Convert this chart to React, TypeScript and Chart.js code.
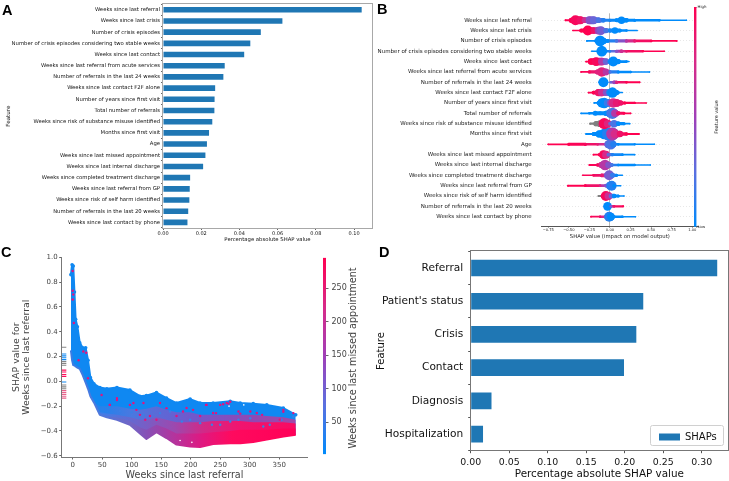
import React, { useEffect, useRef } from "react";
import { Chart, registerables } from "chart.js";

Chart.register(...registerables);

const FONT = "'DejaVu Sans'";
const BAR = "#1f77b4";

// Panel A
const featureNames = [
  "Weeks since last referral", "Weeks since last crisis", "Number of crisis episodes",
  "Number of crisis episodes considering two stable weeks", "Weeks since last contact",
  "Weeks since last referral from acute services", "Number of referrals in the last 24 weeks",
  "Weeks since last contact F2F alone", "Number of years since first visit", "Total number of referrals",
  "Weeks since risk of substance misuse identified", "Months since first visit", "Age",
  "Weeks since last missed appointment", "Weeks since last internal discharge",
  "Weeks since completed treatment discharge", "Weeks since last referral from GP",
  "Weeks since risk of self harm identified", "Number of referrals in the last 20 weeks",
  "Weeks since last contact by phone",
];
const featureShap = [0.104, 0.0625, 0.0512, 0.0457, 0.0425, 0.0323, 0.0316, 0.0273, 0.027, 0.0269, 0.0258, 0.0241, 0.023, 0.0222, 0.021, 0.0142, 0.014, 0.0138, 0.0132, 0.0128];

// Panel B: [SHAP value, local density of the swarm, feature value 0..1 (-1 = missing)]
const rowReferral = [[-0.54, 0.75, 1], [-0.47, 2, 1], [-0.42, 4, 0.95], [-0.36, 3, 0.9], [-0.31, 2.2, 0.7], [-0.25, 3, 0.4], [-0.2, 3, 0.3], [-0.14, 2.2, 0.2], [-0.08, 1.8, 0.1], [0, 1.2, 0.05], [0.08, 1.5, 0], [0.14, 3, 0], [0.2, 1.8, 0], [0.3, 1.2, 0], [0.6, 1, 0], [0.93, 0.5, 0]];
const rowCrisis = [[-0.45, 0.6, 1], [-0.35, 1.5, 1], [-0.27, 4, 1], [-0.2, 2.5, 0.9], [-0.14, 3, 0.5], [-0.11, 3.5, 0.35], [-0.05, 2, 0.2], [0, 1.5, 0.05], [0.06, 2.6, 0], [0.12, 1.5, 0], [0.2, 1, 0], [0.33, 0.5, 0]];
const rowEpisodes = [[-0.28, 0.7, 0], [-0.18, 1, 0], [-0.14, 1.8, 0], [-0.12, 4.3, 0], [-0.08, 2.5, 0], [-0.03, 1.5, 0], [0.08, 1.3, 0.2], [0.2, 1.2, 0.6], [0.3, 1.2, 0.85], [0.5, 1, 1], [0.81, 0.7, 1]];
const rowEpisodesStable = [[-0.22, 0.6, 0], [-0.14, 1, 0], [-0.1, 4.3, 0], [-0.06, 1.5, 0], [0, 1, 0.1], [0.08, 1.2, 0.4], [0.14, 1.5, 0.7], [0.2, 1, 0.85], [0.4, 0.9, 1], [0.66, 0.6, 1]];
const rowContact = [[-0.29, 0.7, 1], [-0.23, 2.5, 1], [-0.17, 3.5, 0.95], [-0.1, 3, 0.6], [-0.05, 2.5, 0.3], [-0.01, 1.5, 0.1], [0.03, 3, 0], [0.04, 4, 0], [0.1, 2, 0], [0.2, 1, 0], [0.23, 0.5, 0]];
const rowAcute = [[-0.35, 0.7, 1], [-0.25, 1.3, 0.95], [-0.15, 2, 0.8], [-0.1, 3.8, 0.8], [-0.05, 2.6, 0.6], [0, 1.3, 0.2], [0.1, 1.2, 0], [0.25, 1, 0], [0.48, 0.6, 0]];
const rowRef24 = [[-0.13, 0.8, 0], [-0.1, 2, 0], [-0.08, 4, 0], [-0.05, 1.6, 0], [-0.03, 0.7, 0], [-0.01, 0, 0], [0.01, 1, 0.3], [0.05, 1.5, 0.45], [0.08, 1.3, 0.8], [0.2, 1, 1], [0.36, 0.7, 1]];
const rowF2F = [[-0.26, 0.7, 1], [-0.2, 1.5, 1], [-0.14, 2.8, 0.9], [-0.1, 3, 0.7], [-0.05, 2.5, 0.4], [-0.01, 2.5, 0.1], [0.03, 4.2, 0], [0.08, 2, 0], [0.1, 1.2, 0], [0.15, 0.5, 0]];
const rowYears = [[-0.19, 0.7, 0], [-0.14, 1.5, 0], [-0.1, 3.5, 0], [-0.07, 4.2, 0], [-0.03, 3, 0.15], [0, 2.5, 0.4], [0.04, 3.8, 0.75], [0.08, 3, 0.85], [0.13, 2, 0.9], [0.18, 1.2, 1], [0.3, 0.9, 1], [0.44, 0.6, 1]];
const rowTotal = [[-0.35, 0.7, 0], [-0.25, 1, 0], [-0.18, 2, 0], [-0.12, 1.6, 0], [-0.05, 2, 0], [0, 3.2, 0.1], [0.03, 4.5, 0.2], [0.06, 3, 0.6], [0.1, 1.7, 0.9], [0.17, 1.1, 1], [0.25, 0.7, 1]];
const rowSubstance = [[-0.24, 0.8, -1], [-0.17, 2, -1], [-0.12, 2.6, -1], [-0.09, 3, 0.9], [-0.07, 4.5, 0.95], [-0.03, 3, 0.8], [0, 1.5, 0.3], [0.05, 3, 0.2], [0.1, 1.8, 0], [0.17, 1.2, 0], [0.24, 0.6, 0]];
const rowMonths = [[-0.29, 0.7, 0], [-0.2, 1.5, 0], [-0.13, 2.8, 0], [-0.07, 4, 0], [-0.02, 5, 0.1], [0.03, 5, 0.6], [0.06, 3.5, 0.75], [0.12, 2.5, 0.9], [0.2, 1.3, 1], [0.35, 0.8, 1]];
const rowAge = [[-0.75, 0.7, 1], [-0.5, 1.2, 1], [-0.3, 1.3, 0.95], [-0.15, 1, 0.85], [-0.05, 1.3, 0.6], [-0.02, 3, 0.3], [0.01, 4.2, 0.2], [0.04, 2.5, 0.1], [0.1, 1, 0], [0.3, 0.9, 0], [0.54, 0.6, 0]];
const rowMissed = [[-0.2, 0.7, 1], [-0.13, 1.2, 1], [-0.08, 3.5, 0.95], [-0.05, 3, 0.75], [-0.02, 1.5, 0.3], [0.03, 1.3, 0.1], [0.15, 1, 0], [0.3, 0.6, 0]];
const rowInternal = [[-0.25, 0.7, 1], [-0.15, 1.3, 0.95], [-0.1, 2.5, 0.75], [-0.06, 4.2, 0.6], [-0.02, 2.5, 0.4], [0.02, 1.5, 0.2], [0.1, 1, 0], [0.3, 0.9, 0], [0.49, 0.6, 0]];
const rowTreatment = [[-0.33, 0.6, 1], [-0.2, 1, 0.95], [-0.1, 1.5, 0.85], [-0.04, 2, 0.6], [-0.01, 4, 0.35], [0.03, 2, 0.15], [0.08, 1.2, 0], [0.15, 0.5, 0]];
const rowGP = [[-0.51, 0.8, 1], [-0.3, 1.1, 1], [-0.12, 1, 0.8], [-0.05, 1.4, 0.4], [0, 3, 0.15], [0.02, 4, 0.1], [0.05, 1.5, 0], [0.13, 0.5, 0]];
const rowSelfHarm = [[-0.14, 0.7, -1], [-0.09, 1.5, 0.9], [-0.05, 4, 0.95], [-0.02, 3, 0.7], [0.01, 1.8, 0.3], [0.05, 1.8, 0], [0.1, 1.2, 0], [0.17, 0.6, 0]];
const rowRef20 = [[-0.05, 1, 0], [-0.03, 3.5, 0], [-0.01, 1.5, 0], [0.01, 1, 0.4], [0.05, 1, 0.9], [0.16, 0.8, 1]];
const rowPhone = [[-0.23, 0.7, 1], [-0.12, 1, 0.9], [-0.05, 1.5, 0.6], [-0.02, 2, 0.3], [-0.01, 4, 0.1], [0.01, 3, 0], [0.05, 1.2, 0], [0.15, 1, 0], [0.31, 0.6, 0]];
const swarmRows = [rowReferral, rowCrisis, rowEpisodes, rowEpisodesStable, rowContact, rowAcute, rowRef24, rowF2F, rowYears, rowTotal, rowSubstance, rowMonths, rowAge, rowMissed, rowInternal, rowTreatment, rowGP, rowSelfHarm, rowRef20, rowPhone];
const swarmTicks = [-0.75, -0.5, -0.25, 0, 0.25, 0.5, 0.75, 1];

// Panel C: outline of the dependence cloud read at these weeks
const weeks = [-3, -1, 1, 3, 5, 8, 12, 17, 22, 26, 30, 36, 46, 58, 75, 97, 114, 125, 142, 159, 176, 199, 216, 238, 267, 284, 306, 329, 357, 378];
const cloudTop = [0.86, 0.94, 0.93, 0.72, 0.5, 0.44, 0.31, 0.27, 0.27, 0.17, 0.03, -0.02, -0.05, -0.06, -0.05, -0.07, -0.12, -0.115, -0.09, -0.135, -0.175, -0.143, -0.175, -0.175, -0.16, -0.175, -0.18, -0.19, -0.215, -0.27];
const cloudBlue = [0.25, 0.17, 0.13, 0.13, 0.12, 0.11, 0.1, 0.05, -0.01, -0.06, -0.12, -0.17, -0.2, -0.2, -0.2, -0.22, -0.23, -0.22, -0.2, -0.23, -0.25, -0.25, -0.27, -0.27, -0.27, -0.27, -0.27, -0.28, -0.29, -0.31];
const cloudMix = [0.25, 0.17, 0.13, 0.13, 0.12, 0.11, 0.1, 0.05, -0.01, -0.06, -0.12, -0.17, -0.25, -0.26, -0.27, -0.29, -0.31, -0.31, -0.29, -0.31, -0.33, -0.33, -0.33, -0.32, -0.32, -0.32, -0.33, -0.33, -0.33, -0.34];
const cloudWarm = [0.25, 0.17, 0.13, 0.13, 0.12, 0.11, 0.1, 0.05, -0.01, -0.06, -0.12, -0.17, -0.26, -0.28, -0.29, -0.32, -0.37, -0.39, -0.35, -0.38, -0.42, -0.42, -0.42, -0.41, -0.4, -0.39, -0.39, -0.39, -0.38, -0.38];
const cloudBottom = [0.25, 0.17, 0.13, 0.13, 0.12, 0.11, 0.1, 0.05, -0.01, -0.06, -0.12, -0.17, -0.27, -0.29, -0.31, -0.35, -0.42, -0.465, -0.41, -0.457, -0.51, -0.525, -0.53, -0.505, -0.5, -0.5, -0.49, -0.47, -0.445, -0.43];
const outlierWeeks = [0, 0, 0, 1, 2, 18, 23, 10, 26, 49, 63, 75, 97, 108, 114, 123, 131, 142, 250, 261, 267, 227, 193, 176, 148, 120, 103, 75, 63, 312, 284, 357, 351, 216, 238, 255, 264, 159, 187, 204, 226, 243, 281, 301, 321, 357, 374];
const outlierShap = [0.89, 0.73, 0.66, 0.7, 0.47, 0.24, 0.23, 0.17, 0.025, -0.11, -0.19, -0.135, -0.19, -0.23, -0.27, -0.31, -0.28, -0.31, -0.19, -0.175, -0.165, -0.19, -0.215, -0.28, -0.175, -0.175, -0.175, -0.15, -0.19, -0.255, -0.26, -0.245, -0.31, -0.28, -0.255, -0.185, -0.18, -0.216, -0.243, -0.23, -0.19, -0.256, -0.243, -0.243, -0.27, -0.23, -0.256];
const strayBlueWeeks = [148, 165, 185, 199, 216, 236, 250, 267, 281, 301, 323, 334, 354, 374, 120, 100, 80];
const strayBlueShap = [-0.256, -0.243, -0.324, -0.31, -0.337, -0.35, -0.35, -0.324, -0.31, -0.297, -0.364, -0.35, -0.31, -0.284, -0.27, -0.25, -0.24];
const holeWeeks = [182, 202, 265, 290];
const holeShap = [-0.477, -0.492, -0.2, -0.19];
const missingWeek = -14.5;
const missingGrey = [0.275, 0.16, 0.145, 0.13, -0.03, -0.045, -0.06];
const missingBlue = [0.22, 0.205, 0.19, 0.175, -0.005];
const missingRed = [0.09, 0.075, 0.055, 0.04];
const missingPink = [-0.075, -0.09, -0.105, -0.12, -0.135];
const colorbarTicks = [50, 100, 150, 200, 250];

// Panel D
const groupNames = ["Referral", "Patient's status", "Crisis", "Contact", "Diagnosis", "Hospitalization"];
const groupShap = [0.32, 0.224, 0.215, 0.199, 0.027, 0.016];

const RAMP = [[0, 139, 251], [90, 112, 224], [160, 63, 184], [216, 42, 136], [255, 0, 81]];
function ramp(t: number) {
  if (t < 0) return "#808080";
  const p = Math.min(t, 0.999) * (RAMP.length - 1);
  const i = Math.floor(p);
  const f = p - i;
  const c = RAMP[i].map((v, k) => Math.round(v + (RAMP[i + 1][k] - v) * f));
  return `rgb(${c[0]},${c[1]},${c[2]})`;
}
function hGradient(chart: any, stops: [number, string][]) {
  const x = chart.scales.x;
  const a = x.getPixelForValue(0);
  const b = x.getPixelForValue(378);
  const g = chart.ctx.createLinearGradient(a, 0, b, 0);
  stops.forEach(([w, col]) => g.addColorStop(w / 378, col));
  return g;
}
const layerMix: [number, string][] = [[0, "#1a86ee"], [60, "#2a80ea"], [100, "#4a78e0"], [200, "#7058cc"], [300, "#9048b4"], [378, "#a048a8"]];
const layerWarm: [number, string][] = [[0, "#2a80ea"], [50, "#3f7ee8"], [100, "#6668d0"], [170, "#9a4ab0"], [220, "#d02a88"], [280, "#f01570"], [378, "#fa0a60"]];
const layerLow: [number, string][] = [[0, "#3a7ce4"], [50, "#5078dc"], [100, "#7264c4"], [125, "#8650b6"], [170, "#b2359e"], [220, "#e01880"], [270, "#ff0a5e"], [378, "#ff0058"]];
const CLOUD_BLUE = "#0f88f2";

const framePlugin = (color: string) => ({
  id: "frame",
  afterDraw(chart: any) {
    const { ctx, chartArea: a } = chart;
    ctx.save();
    ctx.strokeStyle = color;
    ctx.lineWidth = 1;
    ctx.strokeRect(Math.round(a.left) - 0.5, Math.round(a.top) - 0.5, Math.round(a.right - a.left) + 1, Math.round(a.bottom - a.top) + 1);
    ctx.restore();
  },
});
const sideTitle = (text: string, x: number, y: number, size: number, color: string) => ({
  id: "sideTitle",
  afterDraw(chart: any) {
    const { ctx } = chart;
    ctx.save();
    ctx.translate(x, y);
    ctx.rotate(-Math.PI / 2);
    ctx.font = `${size}px ${FONT}`;
    ctx.fillStyle = color;
    ctx.textAlign = "center";
    ctx.textBaseline = "middle";
    ctx.fillText(text, 0, 0);
    ctx.restore();
  },
});
const base = { responsive: false, animation: false as const, events: [] as any[], maintainAspectRatio: false };

function panelA(el: HTMLCanvasElement) {
  return new Chart(el, {
    type: "bar",
    data: { labels: featureNames, datasets: [{ data: featureShap, backgroundColor: BAR, barPercentage: 0.5, categoryPercentage: 1 }] },
    plugins: [framePlugin("#a8a8a8")],
    options: {
      ...base, indexAxis: "y",
      layout: { autoPadding: false, padding: { top: 3, right: 1 } },
      plugins: { legend: { display: false }, tooltip: { enabled: false } },
      scales: {
        x: {
          min: 0, max: 0.1094,
          afterFit: (s: any) => { s.height = 18; },
          grid: { drawOnChartArea: false, tickLength: 2, tickColor: "#666" }, border: { display: false },
          ticks: { stepSize: 0.02, includeBounds: false, maxRotation: 0, padding: 1, color: "#111", font: { size: 5, family: FONT }, callback: (v: any) => Number(v).toFixed(2) },
          title: { display: true, text: "Percentage absolute SHAP value", color: "#111", font: { size: 5.3, family: FONT }, padding: { top: 0, bottom: 3 } },
        },
        y: {
          afterFit: (s: any) => { s.width = 163; },
          grid: { drawOnChartArea: false, tickLength: 2, tickColor: "#666" }, border: { display: false },
          ticks: { autoSkip: false, padding: 1, color: "#111", font: { size: 5.3, family: FONT } },
          title: { display: true, text: "Feature", color: "#111", font: { size: 5.6, family: FONT }, padding: { top: 5, bottom: 0 } },
        },
      },
    },
  } as any);
}

function panelB(el: HTMLCanvasElement) {
  const datasets = swarmRows.map((row, i) => ({
    data: row.map((k) => ({ x: k[0], y: k[1] === 0 ? null : i })),
    showLine: true,
    borderCapStyle: "round",
    pointRadius: row.map((k) => k[1] * 1.25),
    pointBorderWidth: 0,
    pointBackgroundColor: row.map((k) => ramp(k[2])),
    borderColor: ramp(row[0][2]),
    borderWidth: 1,
    segment: {
      borderColor: (c: any) => {
        const m = (row[c.p0DataIndex][2] + row[c.p1DataIndex][2]) / 2;
        return ramp(m);
      },
      borderWidth: (c: any) => Math.max(1.5, 2.6 * Math.min(row[c.p0DataIndex][1], row[c.p1DataIndex][1])),
    },
  }));
  return new Chart(el, {
    type: "scatter",
    data: { datasets },
    options: {
      ...base,
      layout: { autoPadding: false, padding: { top: 3.4, right: 2 } },
      plugins: { legend: { display: false }, tooltip: { enabled: false } },
      scales: {
        x: {
          type: "linear", min: -0.83, max: 1.07, bounds: "data",
          afterBuildTicks: (s: any) => { s.ticks = swarmTicks.map((value) => ({ value })); },
          afterFit: (s: any) => { s.height = 14; },
          grid: { color: (c: any) => (c.tick && c.tick.value === 0 ? "#b8b8b8" : "rgba(0,0,0,0)"), lineWidth: 1, tickLength: 1.5, tickColor: "#555" },
          border: { display: true, color: "#555" },
          ticks: { maxRotation: 0, autoSkip: false, padding: 0.5, color: "#222", font: { size: 3.7, family: FONT }, callback: (v: any) => Number(v).toFixed(2).replace("-", "\u2212") },
          title: { display: true, text: "SHAP value (impact on model output)", color: "#222", font: { size: 5.3, family: FONT }, padding: { top: 0, bottom: 0 } },
        },
        y: {
          type: "linear", reverse: true, min: -0.67, max: 19.9, bounds: "data",
          afterBuildTicks: (s: any) => { s.ticks = featureNames.map((_, value) => ({ value })); },
          afterFit: (s: any) => { s.width = 168.7; },
          grid: { color: "rgba(204,204,204,0.45)", drawTicks: false }, border: { display: false, dash: [1, 2] },
          ticks: { autoSkip: false, padding: 10, color: "#222", font: { size: 5.5, family: FONT }, callback: (v: any) => featureNames[v] ?? "" },
        },
      },
    },
  } as any);
}

function colorbar(el: HTMLCanvasElement, cfg: { min: number; max: number; width: number; padTop: number; padBottom: number; ticks: number[]; labels?: string[]; size: number; title: any; tickLen: number; pad: number; color: string }) {
  return new Chart(el, {
    type: "bar",
    data: {
      labels: [""],
      datasets: [{
        data: [[cfg.min, cfg.max]],
        barPercentage: 1, categoryPercentage: 1,
        backgroundColor: (c: any) => {
          const { chart } = c;
          if (!chart.chartArea) return "#888";
          const g = chart.ctx.createLinearGradient(0, chart.chartArea.bottom, 0, chart.chartArea.top);
          for (let i = 0; i < 5; i++) g.addColorStop(i / 4, ramp(i / 4));
          return g;
        },
      }],
    },
    plugins: [cfg.title],
    options: {
      ...base,
      layout: { autoPadding: false, padding: { top: cfg.padTop, bottom: cfg.padBottom } },
      plugins: { legend: { display: false }, tooltip: { enabled: false } },
      scales: {
        x: { display: false },
        y: {
          position: "right", min: cfg.min, max: cfg.max, bounds: "data",
          afterBuildTicks: (s: any) => { s.ticks = cfg.ticks.map((value) => ({ value })); },
          afterFit: (s: any) => { s.width = cfg.width; },
          grid: { drawOnChartArea: false, tickLength: cfg.tickLen, tickColor: "#666" }, border: { display: false },
          ticks: { autoSkip: false, padding: cfg.pad, color: cfg.color, font: { size: cfg.size, family: FONT }, callback: (v: any) => (cfg.labels ? cfg.labels[cfg.ticks.indexOf(v)] : String(v)) },
        },
      },
    },
  } as any);
}

function panelC(el: HTMLCanvasElement) {
  const BOTTOM_INDEX = 4;
  const line = (ys: number[], bg: any, border: any, width: number, order: number, radius = 0, isBottom = false) => ({
    data: weeks.map((x, i) => ({ x, y: ys[i] })),
    showLine: true, pointRadius: radius, pointBorderWidth: 0, pointBackgroundColor: border, borderWidth: width,
    fill: isBottom ? false : { target: BOTTOM_INDEX },
    backgroundColor: bg, borderColor: border, borderJoinStyle: "round", order,
  });
  const grad = (stops: [number, string][]) => (c: any) => (c.chart.chartArea ? hGradient(c.chart, stops) : "#888");
  const mark = (ys: number[], color: string) => ({
    data: ys.map((y) => ({ x: missingWeek, y })),
    pointStyle: "line", pointRadius: 2.2, pointBorderColor: color, pointBorderWidth: 1.1, showLine: false, order: 1,
  });
  const dots = (xs: number[], ys: number[], color: string, order: number, r = 1.2) => ({
    data: xs.map((x, i) => ({ x, y: ys[i] })),
    pointRadius: r, pointBorderWidth: 0, pointBackgroundColor: color, showLine: false, order,
  });
  return new Chart(el, {
    type: "scatter",
    data: {
      datasets: [
        line(cloudTop, CLOUD_BLUE, CLOUD_BLUE, 2, 9, 1.8),
        line(cloudBlue, grad(layerMix), "rgba(0,0,0,0)", 0, 8),
        line(cloudMix, grad(layerWarm), "rgba(0,0,0,0)", 0, 7),
        line(cloudWarm, grad(layerLow), "rgba(0,0,0,0)", 0, 6),
        line(cloudBottom, "rgba(0,0,0,0)", grad(layerLow), 2, 5, 0, true),
        dots(strayBlueWeeks, strayBlueShap, "#3a7fe6", 2),
        dots(holeWeeks, holeShap, "#ffffff", 2, 0.8),
        dots(outlierWeeks, outlierShap, "#e4127e", 0),
        mark(missingGrey, "#858585"), mark(missingBlue, "#0f88f2"), mark(missingRed, "#ff0a5a"), mark(missingPink, "#e8608a"),
      ],
    },
    options: {
      ...base,
      layout: { autoPadding: false, padding: { top: 14.3, right: 12.7 } },
      plugins: { legend: { display: false }, tooltip: { enabled: false } },
      scales: {
        x: {
          type: "linear", min: -18.6, max: 397.6, bounds: "data",
          afterBuildTicks: (s: any) => { s.ticks = [0, 50, 100, 150, 200, 250, 300, 350].map((value) => ({ value })); },
          afterFit: (s: any) => { s.height = 24; },
          grid: { drawOnChartArea: false, tickLength: 2.5, tickColor: "#666" }, border: { display: true, color: "#777" },
          ticks: { maxRotation: 0, autoSkip: false, padding: 1.5, color: "#444", font: { size: 7, family: FONT } },
          title: { display: true, text: "Weeks since last referral", color: "#444", font: { size: 9.6, family: FONT }, padding: { top: 0, bottom: 0 } },
        },
        y: {
          min: -0.61, max: 1.0, bounds: "data",
          afterBuildTicks: (s: any) => { s.ticks = [-0.6, -0.4, -0.2, 0, 0.2, 0.4, 0.6, 0.8, 1].map((value) => ({ value })); },
          afterFit: (s: any) => { s.width = 61.7; },
          grid: { drawOnChartArea: false, tickLength: 2.5, tickColor: "#666" }, border: { display: true, color: "#777" },
          ticks: { autoSkip: false, padding: 1.5, color: "#444", font: { size: 7, family: FONT }, callback: (v: any) => Number(v).toFixed(1).replace("-", "\u2212") },
          title: { display: true, text: ["SHAP value for", "Weeks since last referral"], color: "#444", font: { size: 9.4, lineHeight: 1.05, family: FONT }, padding: { top: 12, bottom: 0 } },
        },
      },
    },
  } as any);
}

function panelD(el: HTMLCanvasElement) {
  const legendPlace = {
    id: "legendPlace",
    afterLayout(chart: any) {
      const l = chart.legend;
      l.left = 282; l.right = 351; l.top = 188; l.bottom = 205;
    },
    afterDraw(chart: any) {
      const { ctx } = chart;
      ctx.save();
      ctx.strokeStyle = "#d0d0d0";
      ctx.lineWidth = 1;
      ctx.beginPath();
      ctx.roundRect(277.5, 185.5, 73, 20, 2);
      ctx.stroke();
      ctx.restore();
    },
  };
  return new Chart(el, {
    type: "bar",
    data: { labels: groupNames, datasets: [{ label: "SHAPs", data: groupShap, backgroundColor: BAR, barPercentage: 0.5, categoryPercentage: 1 }] },
    plugins: [framePlugin("#777"), legendPlace],
    options: {
      ...base, indexAxis: "y",
      layout: { autoPadding: false, padding: { top: 9, right: 1 } },
      plugins: {
        tooltip: { enabled: false },
        legend: { display: true, position: "chartArea", align: "start", labels: { boxWidth: 21, boxHeight: 7, padding: 4, color: "#111", font: { size: 10, family: FONT } } },
      },
      scales: {
        x: {
          min: 0, max: 0.334,
          afterFit: (s: any) => { s.height = 30.3; },
          grid: { drawOnChartArea: false, tickLength: 2.5, tickColor: "#555" }, border: { display: false },
          ticks: { stepSize: 0.05, includeBounds: false, maxRotation: 0, padding: 3.5, color: "#111", font: { size: 9.4, family: FONT }, callback: (v: any) => Number(v).toFixed(2) },
          title: { display: true, text: "Percentage absolute SHAP value", color: "#111", font: { size: 10.4, family: FONT }, padding: { top: 0, bottom: 0 } },
        },
        y: {
          afterFit: (s: any) => { s.width = 97.7; },
          grid: { drawOnChartArea: false, tickLength: 2.5, tickColor: "#555" }, border: { display: false },
          ticks: { autoSkip: false, padding: 5, color: "#111", font: { size: 10.6, family: FONT } },
          title: { display: true, text: "Feature", color: "#111", font: { size: 10, family: FONT }, padding: { top: 2, bottom: 0 } },
        },
      },
    },
  } as any);
}

const letter = (text: string, left: number, top: number) => (
  <div key={text} style={{ position: "absolute", left, top, font: "bold 14.5px/14px 'Liberation Sans'", color: "#000" }}>{text}</div>
);
const canvasStyle = (left: number, top: number): React.CSSProperties => ({ position: "absolute", left, top });

export default function App() {
  const a = useRef<HTMLCanvasElement>(null);
  const b = useRef<HTMLCanvasElement>(null);
  const bBar = useRef<HTMLCanvasElement>(null);
  const c = useRef<HTMLCanvasElement>(null);
  const cBar = useRef<HTMLCanvasElement>(null);
  const d = useRef<HTMLCanvasElement>(null);

  useEffect(() => {
    const charts = [
      panelA(a.current!),
      panelB(b.current!),
      colorbar(bBar.current!, {
        min: 0, max: 1, width: 32.5, padTop: 7, padBottom: 13, ticks: [0, 1], labels: ["Low", "High"], size: 3.9, tickLen: 0, pad: 1, color: "#222",
        title: sideTitle("Feature value", 23, 117, 4.9, "#222"),
      }),
      panelC(c.current!),
      colorbar(cBar.current!, {
        min: 2.7, max: 295, width: 37, padTop: 6.5, padBottom: 5.3, ticks: colorbarTicks, size: 8, tickLen: 2.5, pad: 3, color: "#444",
        title: sideTitle("Weeks since last missed appointment", 30, 108, 9.6, "#444"),
      }),
      panelD(d.current!),
    ];
    return () => charts.forEach((x) => x.destroy());
  }, []);

  return (
    <div style={{ position: "fixed", left: 0, top: 0, width: 729, height: 481, overflow: "hidden", background: "#fff", filter: "blur(0.35px)" }}>
      <canvas ref={a} width={373} height={246} style={canvasStyle(0, 0)} />
      <canvas ref={b} width={327} height={240} style={canvasStyle(373, 0)} />
      <canvas ref={bBar} width={35} height={240} style={canvasStyle(694, 0)} />
      <canvas ref={c} width={320} height={238} style={canvasStyle(0, 243)} />
      <canvas ref={cBar} width={40} height={212} style={canvasStyle(323, 250)} />
      <canvas ref={d} width={356} height={241} style={canvasStyle(373, 240)} />
      {letter("A", 2, 3)}
      {letter("B", 377, 2)}
      {letter("C", 1, 245)}
      {letter("D", 379, 245)}
    </div>
  );
}
